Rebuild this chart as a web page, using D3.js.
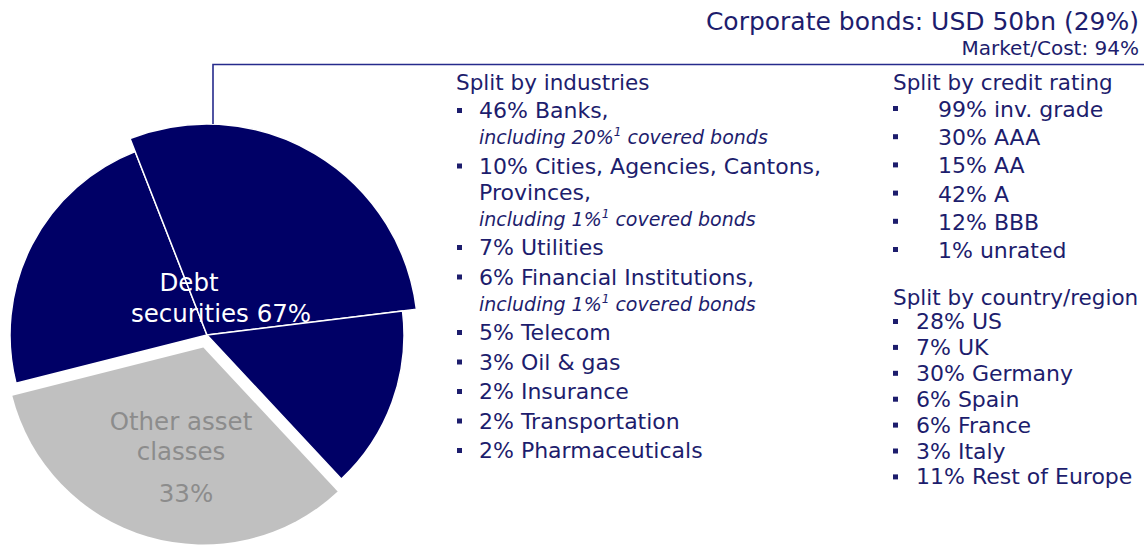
<!DOCTYPE html>
<html>
<head>
<meta charset="utf-8">
<script src="https://cdn.jsdelivr.net/npm/d3@7"></script>
<style>
  html, body { margin: 0; padding: 0; background: #ffffff; }
  svg { display: block; font-family: "DejaVu Sans", "Open Sans", sans-serif; }
</style>
</head>
<body>
<svg id="chart" width="1144" height="546"></svg>
<script>
// ---------- data ----------
const sliceNames  = ["Other asset classes", "Debt securities (other, part 1)", "Corporate bonds", "Debt securities (other, part 2)"];
const sliceValues = [33, 23, 29, 15];
const sliceGroups = ["other", "debt", "debt", "debt"];

const headerTitle = "Corporate bonds: USD 50bn (29%)";
const headerSub   = "Market/Cost: 94%";

const industryTitle = "Split by industries";
const industryPct   = [46, 10, 7, 6, 5, 3, 2, 2, 2];
const industryNames = ["Banks,", "Cities, Agencies, Cantons,|Provinces,", "Utilities", "Financial Institutions,", "Telecom", "Oil & gas", "Insurance", "Transportation", "Pharmaceuticals"];
const industryCoveredPct = [20, 1, null, 1, null, null, null, null, null];

const ratingTitle = "Split by credit rating";
const ratingPct   = [99, 30, 15, 42, 12, 1];
const ratingNames = ["inv. grade", "AAA", "AA", "A", "BBB", "unrated"];

const countryTitle = "Split by country/region";
const countryPct   = [28, 7, 30, 6, 6, 3, 11];
const countryNames = ["US", "UK", "Germany", "Spain", "France", "Italy", "Rest of Europe"];

const debtLabel  = ["Debt", "securities 67%"];
const otherLabel = ["Other asset", "classes", "33%"];

// ---------- style ----------
const NAVY = "#000066";
const TEXT = "#1d1d6d";
const LINE = "#262b8c";
const GREY = "#c0c0c0";
const GREY_TEXT = "#8c8c8c";

const svg = d3.select("#chart");

// ---------- pie ----------
const cx = 207, cy = 335, R = 197, Rcorp = 211, explode = 13;
const start = 137 * Math.PI / 180;
const pie = d3.pie().sort(null).value(d => d).startAngle(start).endAngle(start + 2 * Math.PI);
const arcs = pie(sliceValues);
const arc = d3.arc().innerRadius(0).outerRadius((d) => d.index === 2 ? Rcorp : R);

const gPie = svg.append("g").attr("transform", `translate(${cx},${cy})`);
gPie.selectAll("path")
  .data(arcs)
  .join("path")
  .attr("d", arc)
  .attr("fill", (d, i) => sliceGroups[i] === "other" ? GREY : NAVY)
  .attr("stroke", (d, i) => sliceGroups[i] === "other" ? "none" : "#ffffff")
  .attr("stroke-width", 1.5)
  .attr("stroke-linejoin", "round")
  .attr("transform", (d, i) => {
    if (sliceGroups[i] !== "other") return null;
    const a = (d.startAngle + d.endAngle) / 2;
    return `translate(${Math.sin(a) * explode},${-Math.cos(a) * explode})`;
  });

// ---------- connector ----------
const lineY = 64.5;
const anchorX = cx + 6;
const anchorY = cy - Math.sqrt(Rcorp * Rcorp - 36);
svg.append("path")
  .attr("d", `M${anchorX},${anchorY}V${lineY}H1144`)
  .attr("fill", "none")
  .attr("stroke", LINE)
  .attr("stroke-width", 1.6);

// ---------- pie labels ----------
const debtPos = [[189, 291], [221, 322]];
svg.append("g").selectAll("text")
  .data(debtLabel)
  .join("text")
  .attr("x", (d, i) => debtPos[i][0])
  .attr("y", (d, i) => debtPos[i][1])
  .attr("text-anchor", "middle")
  .attr("font-size", 24.5)
  .attr("fill", "#ffffff")
  .text(d => d);

const otherPos = [[181, 430], [181, 460], [186, 502]];
svg.append("g").selectAll("text")
  .data(otherLabel)
  .join("text")
  .attr("x", (d, i) => otherPos[i][0])
  .attr("y", (d, i) => otherPos[i][1])
  .attr("text-anchor", "middle")
  .attr("font-size", 24.5)
  .attr("fill", GREY_TEXT)
  .text(d => d);

// ---------- header ----------
svg.append("text")
  .attr("x", 1139).attr("y", 30)
  .attr("text-anchor", "end")
  .attr("font-size", 25)
  .attr("fill", TEXT)
  .text(headerTitle);
svg.append("text")
  .attr("x", 1139).attr("y", 55)
  .attr("text-anchor", "end")
  .attr("font-size", 20)
  .attr("fill", TEXT)
  .text(headerSub);

// ---------- lists ----------
const FS_TITLE = 21.5, FS = 22, FS_NOTE = 19;

function title(x, y, txt) {
  svg.append("text").attr("x", x).attr("y", y)
    .attr("font-size", FS_TITLE).attr("fill", TEXT).text(txt);
}
function bullet(x, y) {
  svg.append("rect").attr("x", x).attr("y", y - 10).attr("width", 5).attr("height", 5).attr("fill", TEXT);
}

// industries
title(456, 90, industryTitle);
{
  let y = 118;
  const within = 26, between = 29.5;
  industryPct.forEach((p, i) => {
    const parts = industryNames[i].split("|");
    bullet(457, y);
    svg.append("text").attr("x", 479).attr("y", y)
      .attr("font-size", FS).attr("fill", TEXT)
      .text(`${p}% ${parts[0]}`);
    for (let k = 1; k < parts.length; k++) {
      y += within;
      svg.append("text").attr("x", 479).attr("y", y)
        .attr("font-size", FS).attr("fill", TEXT).text(parts[k]);
    }
    if (industryCoveredPct[i] !== null) {
      y += within;
      const t = svg.append("text").attr("x", 479).attr("y", y)
        .attr("font-size", FS_NOTE).attr("font-style", "italic").attr("fill", TEXT);
      t.append("tspan").text(`including ${industryCoveredPct[i]}%`);
      t.append("tspan").attr("font-size", 12).attr("dy", -8).text("1");
      t.append("tspan").attr("dy", 8).text(" covered bonds");
    }
    y += between;
  });
}

// credit rating
title(893, 90, ratingTitle);
ratingPct.forEach((p, i) => {
  const y = 117 + i * 28.2;
  svg.append("rect").attr("x", 893).attr("y", y - 11).attr("width", 5).attr("height", 5).attr("fill", TEXT);
  svg.append("text").attr("x", 938).attr("y", y)
    .attr("font-size", FS).attr("fill", TEXT)
    .text(`${p}% ${ratingNames[i]}`);
});

// country / region
title(893, 305, countryTitle);
countryPct.forEach((p, i) => {
  const y = 329 + i * 25.9;
  svg.append("rect").attr("x", 893).attr("y", y - 10).attr("width", 5).attr("height", 5).attr("fill", TEXT);
  svg.append("text").attr("x", 916).attr("y", y)
    .attr("font-size", FS).attr("fill", TEXT)
    .text(`${p}% ${countryNames[i]}`);
});
</script>
</body>
</html>
